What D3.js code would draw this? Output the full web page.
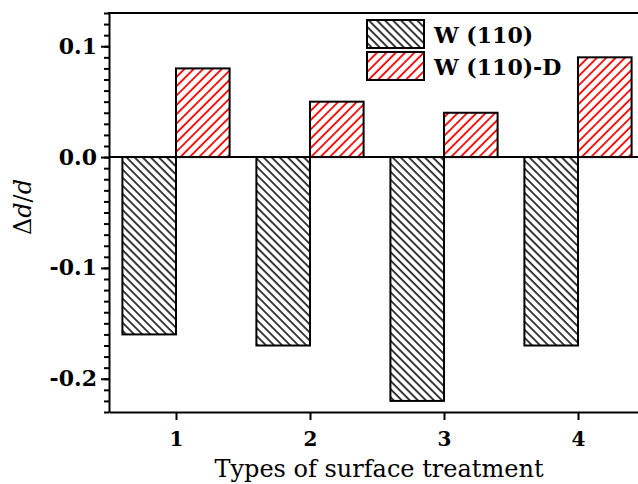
<!DOCTYPE html>
<html>
<head>
<meta charset="utf-8">
<script src="https://cdn.jsdelivr.net/npm/d3@7"></script>
<style>
  body { margin: 0; background: #fff; }
  svg { display: block; }
  .axis path, .axis line { stroke: #000; stroke-width: 2; }
  .ytick text { font-family: "DejaVu Serif", serif; font-weight: bold; font-size: 22px; }
  .xtick text { font-family: "DejaVu Serif", serif; font-weight: bold; font-size: 20px; }
</style>
</head>
<body>
<div class="chart"></div>
<script>
// data
var categories = [1, 2, 3, 4];
var seriesNames = ["W (110)", "W (110)-D"];
var plainValues = [-0.16, -0.17, -0.22, -0.17];
var dopedValues = [0.08, 0.05, 0.04, 0.09];
var yMajorTicks = [-0.2, -0.1, 0.0, 0.1];

var svgWidth = 638;
var svgHeight = 484;

var margin = { top: 13, left: 109 };
var plotRight = 645;   // right spine falls just outside the picture
var plotBottom = 412;

var svg = d3.select(".chart")
  .append("svg")
  .attr("width", svgWidth)
  .attr("height", svgHeight);

// hatch patterns
var defs = svg.append("defs");
defs.append("pattern")
  .attr("id", "hatchBlack")
  .attr("patternUnits", "userSpaceOnUse")
  .attr("width", 5.7).attr("height", 10)
  .attr("patternTransform", "rotate(-45)")
  .append("line")
  .attr("x1", 1).attr("y1", 0).attr("x2", 1).attr("y2", 10)
  .attr("stroke", "#000").attr("stroke-width", 1.5);

defs.append("pattern")
  .attr("id", "hatchRed")
  .attr("patternUnits", "userSpaceOnUse")
  .attr("width", 6.6).attr("height", 10)
  .attr("patternTransform", "rotate(45)")
  .append("line")
  .attr("x1", 1).attr("y1", 0).attr("x2", 1).attr("y2", 10)
  .attr("stroke", "#ff0000").attr("stroke-width", 1.8);

var x = d3.scaleLinear().domain([0.5, 4.5]).range([margin.left, plotRight]);
var y = d3.scaleLinear().domain([-0.23, 0.13]).range([plotBottom, margin.top]);

var barW = 0.4;

var rows = categories.map(function(c, i) {
  return { cat: c, plain: plainValues[i], doped: dopedValues[i] };
});

// black bars (left of each category)
svg.selectAll(".plain")
  .data(rows)
  .enter()
  .append("rect")
  .attr("class", "plain")
  .attr("x", d => x(d.cat - barW))
  .attr("width", d => x(d.cat) - x(d.cat - barW))
  .attr("y", d => y(Math.max(0, d.plain)))
  .attr("height", d => Math.abs(y(d.plain) - y(0)))
  .attr("fill", "url(#hatchBlack)")
  .attr("stroke", "#000")
  .attr("stroke-width", 2);

// red bars (right of each category)
svg.selectAll(".doped")
  .data(rows)
  .enter()
  .append("rect")
  .attr("class", "doped")
  .attr("x", d => x(d.cat))
  .attr("width", d => x(d.cat + barW) - x(d.cat))
  .attr("y", d => y(Math.max(0, d.doped)))
  .attr("height", d => Math.abs(y(d.doped) - y(0)))
  .attr("fill", "url(#hatchRed)")
  .attr("stroke", "#000")
  .attr("stroke-width", 2);

// zero line
svg.append("line")
  .attr("x1", x(0.5)).attr("x2", x(4.5))
  .attr("y1", y(0)).attr("y2", y(0))
  .attr("stroke", "#000").attr("stroke-width", 2);

// minor y ticks
var minorTicks = d3.range(-23, 14).map(v => v / 100);
svg.append("g")
  .attr("class", "axis")
  .attr("transform", `translate(${margin.left},0)`)
  .call(d3.axisLeft(y).tickValues(minorTicks).tickSize(5).tickFormat(""))
  .call(g => g.select(".domain").remove());

// major y ticks + spine
svg.append("g")
  .attr("class", "axis ytick")
  .attr("transform", `translate(${margin.left},0)`)
  .call(d3.axisLeft(y).tickValues(yMajorTicks).tickSize(8).tickSizeOuter(0)
    .tickFormat(d => d3.format(".1f")(d).replace("\u2212", "-")))
  .call(g => g.selectAll("text").attr("x", -12).attr("fill", "#000"));

// x axis
svg.append("g")
  .attr("class", "axis xtick")
  .attr("transform", `translate(0,${plotBottom})`)
  .call(d3.axisBottom(x).tickValues(categories).tickSize(8).tickSizeOuter(0).tickFormat(d3.format("d")))
  .call(g => g.selectAll("text").attr("y", 34).attr("dy", 0).attr("fill", "#000"));

// top spine
svg.append("line")
  .attr("x1", x(0.5) - 1).attr("x2", x(4.5))
  .attr("y1", margin.top).attr("y2", margin.top)
  .attr("stroke", "#000").attr("stroke-width", 2);

// axis titles
svg.append("text")
  .attr("x", 379)
  .attr("y", 477)
  .attr("text-anchor", "middle")
  .style("font-family", "DejaVu Serif, serif")
  .style("font-size", "24px")
  .text("Types of surface treatment");

var yTitle = svg.append("text")
  .attr("transform", `translate(31,207) rotate(-90)`)
  .attr("text-anchor", "middle")
  .style("font-family", "DejaVu Serif, serif")
  .style("font-size", "24px");
yTitle.append("tspan").text("\u0394");
yTitle.append("tspan").style("font-style", "italic").text("d");
yTitle.append("tspan").text("/");
yTitle.append("tspan").style("font-style", "italic").text("d");

// legend
var legend = svg.append("g").attr("transform", "translate(367,20)");
var legendFills = ["url(#hatchBlack)", "url(#hatchRed)"];
seriesNames.forEach(function(name, i) {
  var row = legend.append("g").attr("transform", `translate(0,${i * 32})`);
  row.append("rect")
    .attr("width", 57).attr("height", 28)
    .attr("fill", legendFills[i])
    .attr("stroke", "#000").attr("stroke-width", 2);
  row.append("text")
    .attr("x", 67).attr("y", 23)
    .style("font-family", "DejaVu Serif, serif")
    .style("font-weight", "bold")
    .style("font-size", "22px")
    .text(name);
});
</script>
</body>
</html>
